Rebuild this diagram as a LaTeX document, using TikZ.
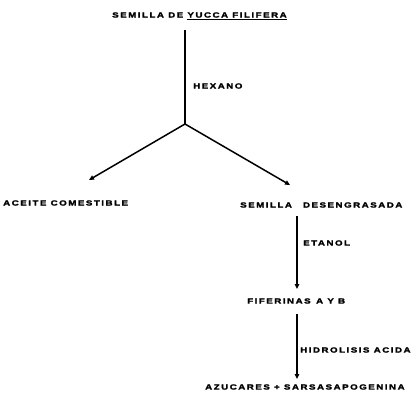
\documentclass[tikz,border=0pt]{standalone}
\usepackage{fontspec}
\setmainfont{Liberation Sans}[LetterSpace=20,BoldFeatures={FakeBold=2.2,FakeStretch=1.3}]
\usetikzlibrary{arrows.meta}
\begin{document}
\begin{tikzpicture}[x=1pt,y=-1pt,
  lbl/.style={font=\bfseries\fontsize{7.5}{8}\selectfont, inner sep=0pt, anchor=west},
  conn/.style={line width=1.5pt, -{Triangle[length=5pt,width=4.5pt]}},
  plain/.style={line width=1.5pt}]
\useasboundingbox (0,0) rectangle (411,395);
\node[lbl] (t) at (112,16) {SEMILLA DE \underline{YUCCA FILIFERA}};
\coordinate (t0) at (185,30);
\coordinate (j) at (185,124);
\draw[plain] (t0) -- (j);
\node[lbl] (hex) at (193,86) {HEXANO};
\node[lbl] (ac) at (3,203) {ACEITE COMESTIBLE};
\node[lbl] (sd) at (240,205) {SEMILLA\hspace{11pt}DESENGRASADA};
\coordinate (ae) at (89,180);
\coordinate (be) at (290,185);
\draw[conn] (j) -- (ae);
\draw[conn] (j) -- (be);
\coordinate (s1) at (297,216);
\coordinate (e1) at (297,289);
\draw[conn] (s1) -- (e1);
\node[lbl] (et) at (303,243) {ETANOL};
\node[lbl] (fi) at (247,301) {FIFERINAS \,A Y B};
\coordinate (s2) at (297,314);
\coordinate (e2) at (297,379);
\draw[conn] (s2) -- (e2);
\node[lbl] (hi) at (300,350) {HIDROLISIS ACIDA};
\node[lbl] (az) at (205,387) {AZUCARES + SARSASAPOGENINA};
\end{tikzpicture}
\end{document}
